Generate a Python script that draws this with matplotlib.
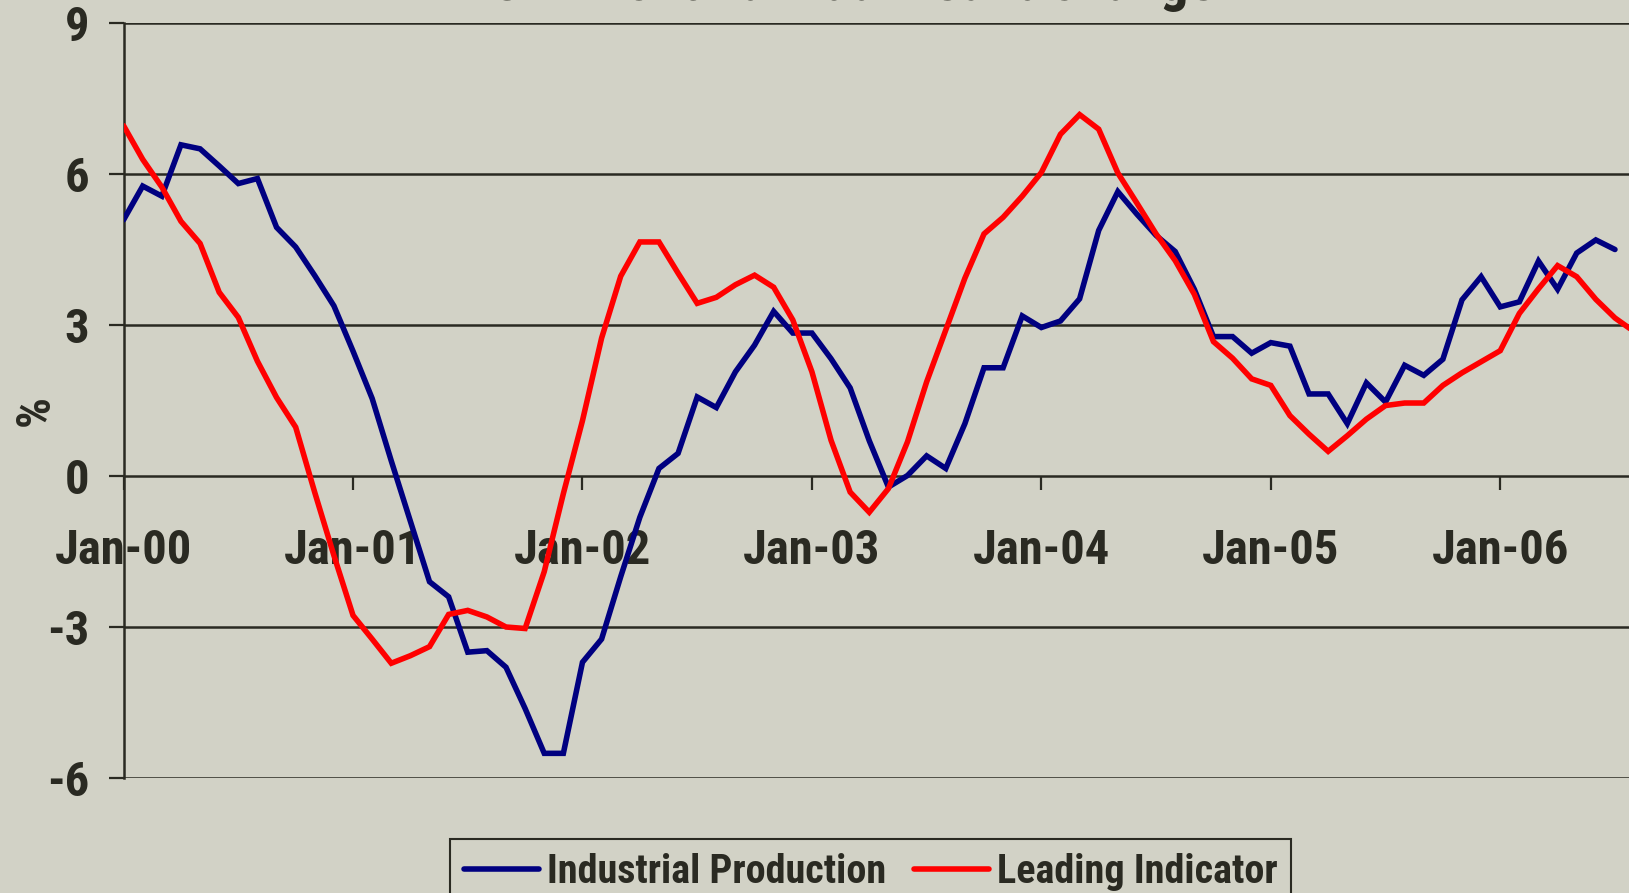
import matplotlib
matplotlib.use("Agg")
import matplotlib.pyplot as plt
from matplotlib import font_manager

# ---- data -------------------------------------------------------------
tick_labels = ["Jan-00", "Jan-01", "Jan-02", "Jan-03", "Jan-04", "Jan-05", "Jan-06"]
tick_months = [0, 12, 24, 36, 48, 60, 72]

industrial_production = [
    5.09, 5.76, 5.56, 6.58, 6.50, 6.16, 5.81, 5.91, 4.94, 4.55, 3.98, 3.38,
    2.48, 1.54, 0.30, -0.90, -2.10, -2.40, -3.50, -3.47, -3.80, -4.62, -5.51, -5.51,
    -3.70, -3.24, -2.00, -0.82, 0.15, 0.45, 1.57, 1.36, 2.07, 2.60, 3.27, 2.84,
    2.84, 2.33, 1.75, 0.70, -0.22, 0.01, 0.40, 0.15, 1.04, 2.15, 2.15, 3.18,
    2.95, 3.08, 3.52, 4.88, 5.65, 5.20, 4.78, 4.46, 3.71, 2.77, 2.77, 2.44,
    2.65, 2.58, 1.63, 1.63, 1.04, 1.85, 1.47, 2.20, 2.00, 2.32, 3.50, 3.96,
    3.36, 3.46, 4.27, 3.71, 4.43, 4.69, 4.50,
]

leading_indicator = [
    6.96, 6.29, 5.74, 5.06, 4.62, 3.65, 3.15, 2.28, 1.56, 0.97, -0.33, -1.58,
    -2.77, -3.24, -3.72, -3.57, -3.39, -2.75, -2.67, -2.80, -3.00, -3.03, -1.90, -0.35,
    1.10, 2.74, 3.97, 4.65, 4.65, 4.03, 3.43, 3.55, 3.80, 3.99, 3.75, 3.10,
    2.07, 0.71, -0.32, -0.72, -0.25, 0.68, 1.87, 2.90, 3.93, 4.81, 5.14, 5.56,
    6.03, 6.79, 7.18, 6.89, 6.02, 5.42, 4.81, 4.28, 3.61, 2.67, 2.34, 1.93,
    1.80, 1.20, 0.83, 0.49, 0.80, 1.13, 1.40, 1.45, 1.45, 1.80, 2.05, 2.27,
    2.49, 3.23, 3.72, 4.18, 3.96, 3.51, 3.14, 2.87,
]

y_ticks = [-6, -3, 0, 3, 6, 9]
series_names = ["Industrial Production", "Leading Indicator"]

# ---- style ------------------------------------------------------------
bold_families = {f.name for f in font_manager.fontManager.ttflist
                 if f.weight in (700, "bold") and f.style == "normal"}
FONT = "Liberation Sans"
for cand in ["Liberation Sans Narrow", "Roboto Condensed", "Archivo Narrow",
             "PT Sans Narrow", "Asap Condensed", "Barlow Semi Condensed"]:
    if cand in bold_families:
        FONT = cand
        break
plt.rcParams["font.family"] = [FONT, "DejaVu Sans"]
plt.rcParams["font.weight"] = "bold"

BG = "#D2D2C6"
INK = "#2A2A22"
BLUE = "#000080"
RED = "#FF0000"
LW = 4.0

W, H = 1629, 893
fig = plt.figure(figsize=(W / 100, H / 100), dpi=100, facecolor=BG)

left = 123.6 / W
bottom = 1 - 778 / H
top = 1 - 23 / H
ax = fig.add_axes([left, bottom, 1 - left, top - bottom], facecolor=BG)

x_ip = list(range(len(industrial_production)))
x_li = list(range(len(leading_indicator)))

ax.plot(x_ip, industrial_production, color=BLUE, lw=LW, solid_capstyle="round",
        solid_joinstyle="miter", label=series_names[0], zorder=3)
ax.plot(x_li, leading_indicator, color=RED, lw=LW, solid_capstyle="round",
        solid_joinstyle="miter", label=series_names[1], zorder=4)

ax.set_xlim(0, (W - 123.6) / 19.12)
ax.set_ylim(-6, 9)

for v in y_ticks:
    if v != 0:
        ax.axhline(v, color=INK, lw=1.8, zorder=1)

for s in ["top", "right"]:
    ax.spines[s].set_visible(False)
ax.spines["left"].set_color(INK)
ax.spines["left"].set_linewidth(1.8)
ax.spines["bottom"].set_position(("data", 0))
ax.spines["bottom"].set_color(INK)
ax.spines["bottom"].set_linewidth(1.8)

ax.set_yticks(y_ticks)
ax.set_yticklabels([str(v) for v in y_ticks])
ax.set_xticks(tick_months)
ax.set_xticklabels(tick_labels)

ax.tick_params(axis="y", direction="out", length=11, width=1.6, color=INK,
               pad=14, labelsize=35, labelcolor=INK)
ax.tick_params(axis="x", direction="out", length=10, width=1.6, color=INK,
               pad=27.5, labelsize=35, labelcolor=INK)
for lab in ax.get_xticklabels() + ax.get_yticklabels():
    lab.set_fontweight("bold")

# title (mostly cut off at the top in the reference)
fig.text(853 / W, 1.0, "Six-month annualized % change", ha="center",
         va="baseline", fontsize=41, fontweight="bold", color=INK)

# y label
fig.text(36 / W, 1 - 410 / H, "%", rotation=90, ha="center", va="center",
         fontsize=35, fontweight="bold", color=INK)

leg = fig.legend(loc="upper left", bbox_to_anchor=(450 / W, 1 - 839 / H), ncol=2,
                 frameon=True, fancybox=False, edgecolor=INK, facecolor=BG,
                 framealpha=1, prop={"size": 29, "weight": "bold"},
                 handlelength=1.85, handletextpad=0.2, columnspacing=0.7,
                 borderpad=0.35, borderaxespad=0)
leg.get_frame().set_linewidth(1.5)
for t in leg.get_texts():
    t.set_color(INK)

fig.savefig("out.png", dpi=100, facecolor=BG)
